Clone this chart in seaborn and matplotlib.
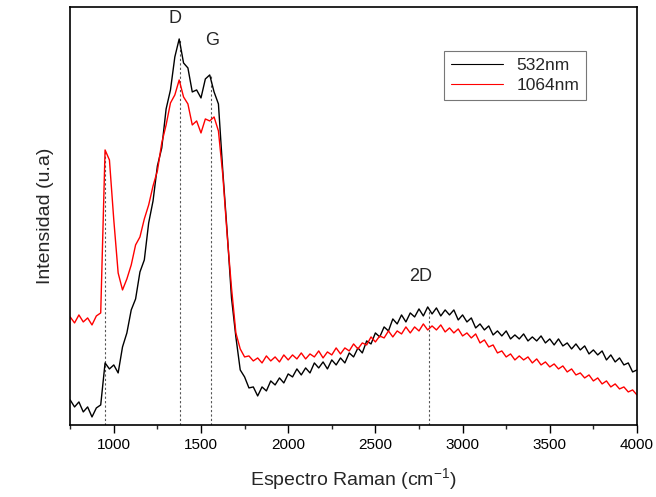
import numpy as np
import pandas as pd
import seaborn as sns
import matplotlib.pyplot as plt
from matplotlib.ticker import MultipleLocator

# Raman shift grid (cm-1) and intensities (arbitrary units)
shift = np.arange(750, 4001, 25)

i_532 = [25, 18, 23, 13, 18, 8, 17, 20, 62, 56,
         60, 52, 78, 92, 115, 126, 153, 165, 202, 224,
         259, 277, 316, 335, 368, 386, 362, 357, 333, 335,
         327, 346, 350, 333, 321, 254, 193, 127, 88, 55,
         48, 37, 38, 29, 38, 34, 44, 40, 47, 42,
         51, 48, 56, 50, 57, 52, 62, 57, 63, 56,
         65, 60, 67, 62, 72, 68, 77, 72, 84, 81,
         92, 88, 98, 94, 106, 101, 110, 103, 112, 108,
         116, 109, 118, 111, 117, 109, 115, 110, 115, 105,
         110, 103, 107, 97, 101, 95, 99, 90, 94, 89,
         94, 86, 90, 86, 91, 84, 88, 84, 89, 82,
         86, 80, 86, 79, 82, 76, 81, 75, 79, 71,
         75, 70, 74, 65, 70, 63, 67, 60, 62, 53,
         55]

i_1064 = [108, 102, 110, 103, 107, 100, 109, 112, 275, 265,
          205, 152, 135, 146, 160, 180, 188, 206, 220, 239,
          254, 282, 300, 322, 330, 345, 328, 321, 300, 304,
          292, 306, 304, 308, 294, 250, 190, 137, 92, 76,
          68, 69, 64, 67, 62, 69, 64, 68, 63, 70,
          65, 70, 66, 72, 66, 71, 68, 74, 67, 73,
          70, 77, 71, 77, 74, 81, 76, 82, 80, 88,
          83, 89, 87, 94, 88, 94, 91, 98, 92, 98,
          94, 101, 95, 99, 95, 100, 93, 97, 92, 96,
          89, 92, 87, 91, 82, 85, 78, 80, 72, 74,
          68, 71, 65, 69, 65, 68, 62, 66, 60, 63,
          58, 61, 56, 59, 53, 56, 50, 52, 47, 50,
          44, 47, 41, 44, 38, 41, 36, 38, 33, 35,
          30]

# marked bands: position and height of the dotted guide
peak_pos = [950, 1380, 1555, 2810]
peak_top = [275, 385, 349, 115]
peak_names = ['D', 'G', '2D']
name_pos = [1350, 1565, 2760]
name_y = [398, 376, 140]

df = pd.DataFrame({'shift': np.concatenate([shift, shift]),
                   'I': i_532 + i_1064,
                   'laser': ['532nm'] * len(shift) + ['1064nm'] * len(shift)})

sns.set_style('white')
plt.rcParams['font.family'] = ['Liberation Sans', 'DejaVu Sans']

fig = plt.figure(figsize=(6.56, 4.97), dpi=100)
ax = fig.add_axes([0.107, 0.145, 0.864, 0.841])

for x, top in zip(peak_pos, peak_top):
    ax.plot([x, x], [0, top], ls=(0, (2, 2)), color='#555555', lw=0.8, zorder=1)

sns.lineplot(data=df, x='shift', y='I', hue='laser',
             palette={'532nm': 'black', '1064nm': 'red'},
             linewidth=1.0, ax=ax, zorder=2)

for name, x, y in zip(peak_names, name_pos, name_y):
    ax.text(x, y, name, ha='center', va='bottom', fontsize=13)

ax.set_xlim(750, 4000)
ax.set_ylim(0, 418)
ax.xaxis.set_major_locator(MultipleLocator(500))
ax.xaxis.set_minor_locator(MultipleLocator(250))
ax.set_yticks([])
ax.tick_params(axis='x', which='major', direction='out', length=6, width=1,
               labelsize=11, bottom=True, colors='black')
ax.tick_params(axis='x', which='minor', direction='out', length=3, width=1, bottom=True)
for s in ax.spines.values():
    s.set_color('black')
    s.set_linewidth(1.2)

ax.set_xlabel('Espectro Raman (cm$^{\\mathregular{-1}}$)', fontsize=14, labelpad=10)
ax.set_ylabel('Intensidad (u.a)', fontsize=14, labelpad=12)

leg = ax.legend(loc='upper right', bbox_to_anchor=(0.926, 0.916), fontsize=12.5,
                frameon=True, fancybox=False, edgecolor='#555555', handlelength=3,
                borderpad=0.4, labelspacing=0.3)
leg.get_frame().set_linewidth(0.8)
for h in leg.get_lines():
    h.set_linewidth(0.8)

plt.savefig('out.png')
